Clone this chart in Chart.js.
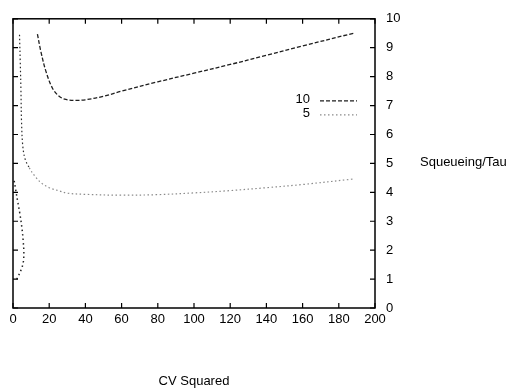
<!DOCTYPE html>
<html>
<head>
<meta charset="utf-8">
<script src="https://cdn.jsdelivr.net/npm/chart.js@4/dist/chart.umd.min.js"></script>
<style>
  html, body { margin: 0; padding: 0; background: #fff; }
  #wrap { width: 508px; height: 388px; position: relative; }
</style>
</head>
<body>
<div id="wrap"><canvas id="chart"></canvas></div>
<script>
// values
const xTicks = [0, 20, 40, 60, 80, 100, 120, 140, 160, 180, 200];
const yTicks = [0, 1, 2, 3, 4, 5, 6, 7, 8, 9, 10];

// curve "10"
const cvTen = [13.5, 15.4, 18.2, 21.8, 25.5, 29.2, 35, 40, 50, 60, 80, 100, 120, 140, 160, 188];
const sqTen = [9.47, 8.87, 8.18, 7.6, 7.32, 7.21, 7.18, 7.2, 7.32, 7.5, 7.82, 8.12, 8.42, 8.74, 9.06, 9.5];

// curve "5"
const cvFive = [3.6, 4.0, 4.4, 4.7, 5.4, 6.7, 9.0, 12.3, 16.1, 20, 25.5, 30, 40, 60, 80, 100, 120, 140, 160, 188];
const sqFive = [9.45, 8.52, 7.49, 6.46, 5.6, 5.15, 4.85, 4.54, 4.3, 4.16, 4.05, 3.97, 3.93, 3.9, 3.92, 3.98, 4.06, 4.16, 4.27, 4.46];

// lower branch near the left edge
const cvLow = [0.66, 1.6, 2.5, 3.8, 4.9, 5.6, 6.0, 5.6, 4.4, 2.9, 1.8];
const sqLow = [4.4, 4.05, 3.71, 3.26, 2.78, 2.34, 1.89, 1.55, 1.31, 1.1, 0.96];

const legendNames = ['10', '5'];

const pts = (xs, ys) => xs.map((x, i) => ({ x, y: ys[i] }));
const FONT = "'Liberation Sans', Arial, sans-serif";

const tenStyle  = { color: '#1e1e1e', dash: [4, 2], width: 1.3 };
const fiveStyle = { color: '#8a8a8a', dash: [1.5, 2.5], width: 1.2 };

const framePlugin = {
  id: 'frame',
  afterDraw(chart) {
    const { ctx, chartArea: a, scales: { x, y } } = chart;
    ctx.save();
    ctx.strokeStyle = '#000';
    ctx.lineWidth = 1.5;
    ctx.setLineDash([]);
    ctx.strokeRect(a.left, a.top, a.right - a.left, a.bottom - a.top);

    // inward ticks, all four sides
    ctx.lineWidth = 1.2;
    ctx.beginPath();
    xTicks.forEach(v => {
      const px = x.getPixelForValue(v);
      ctx.moveTo(px, a.bottom); ctx.lineTo(px, a.bottom - 5);
      ctx.moveTo(px, a.top);    ctx.lineTo(px, a.top + 5);
    });
    yTicks.forEach(v => {
      const py = y.getPixelForValue(v);
      ctx.moveTo(a.left, py);  ctx.lineTo(a.left + 5, py);
      ctx.moveTo(a.right, py); ctx.lineTo(a.right - 5, py);
    });
    ctx.stroke();

    // legend inside the plot
    ctx.font = `13px ${FONT}`;
    ctx.fillStyle = '#000';
    ctx.textAlign = 'right';
    ctx.textBaseline = 'middle';
    [tenStyle, fiveStyle].forEach((s, i) => {
      const ly = a.top + 81 + i * 14;
      ctx.fillText(legendNames[i], a.right - 65, ly);
      ctx.strokeStyle = s.color;
      ctx.lineWidth = s.width;
      ctx.setLineDash(s.dash);
      ctx.beginPath();
      ctx.moveTo(a.right - 55, ly + 1);
      ctx.lineTo(a.right - 18, ly + 1);
      ctx.stroke();
    });

    // horizontal y title on the right
    ctx.setLineDash([]);
    ctx.textAlign = 'left';
    ctx.fillText('Squeueing/Tau', a.right + 45, y.getPixelForValue(5) - 1);
    ctx.restore();
  }
};

new Chart(document.getElementById('chart'), {
  type: 'line',
  data: {
    datasets: [
      {
        label: legendNames[0],
        data: pts(cvTen, sqTen),
        borderColor: tenStyle.color, borderWidth: tenStyle.width, borderDash: tenStyle.dash,
        pointRadius: 0, tension: 0.35, fill: false
      },
      {
        label: legendNames[1],
        data: pts(cvFive, sqFive),
        borderColor: fiveStyle.color, borderWidth: fiveStyle.width, borderDash: fiveStyle.dash,
        segment: { borderColor: c => c.p0.parsed.x < 7 ? '#2a2a2a' : undefined },
        pointRadius: 0, tension: 0.35, fill: false
      },
      {
        label: 'low',
        data: pts(cvLow, sqLow),
        borderColor: '#222', borderWidth: 1.5, borderDash: [1.5, 3],
        pointRadius: 0, tension: 0.35, fill: false
      }
    ]
  },
  options: {
    responsive: true,
    maintainAspectRatio: false,
    animation: false,
    layout: { padding: { left: 13, top: 17, right: 0, bottom: 0 } },
    plugins: { legend: { display: false }, tooltip: { enabled: false } },
    scales: {
      x: {
        type: 'linear', min: 0, max: 200,
        grid: { display: false, drawTicks: false },
        border: { display: false },
        ticks: { stepSize: 20, autoSkip: false, maxRotation: 0, padding: 4,
                 color: '#000', font: { family: FONT, size: 13 } },
        title: { display: true, text: 'CV Squared', color: '#000',
                 font: { family: FONT, size: 13, lineHeight: 1 }, padding: { top: 0, bottom: 0 } },
        afterFit(s) { s.height = 80; }
      },
      y: {
        type: 'linear', position: 'right', min: 0, max: 10,
        grid: { display: false, drawTicks: false },
        border: { display: false },
        ticks: { stepSize: 1, autoSkip: false, padding: 11,
                 color: '#000', font: { family: FONT, size: 13 } },
        afterFit(s) { s.width = 133; }
      }
    }
  },
  plugins: [framePlugin]
});
</script>
</body>
</html>
